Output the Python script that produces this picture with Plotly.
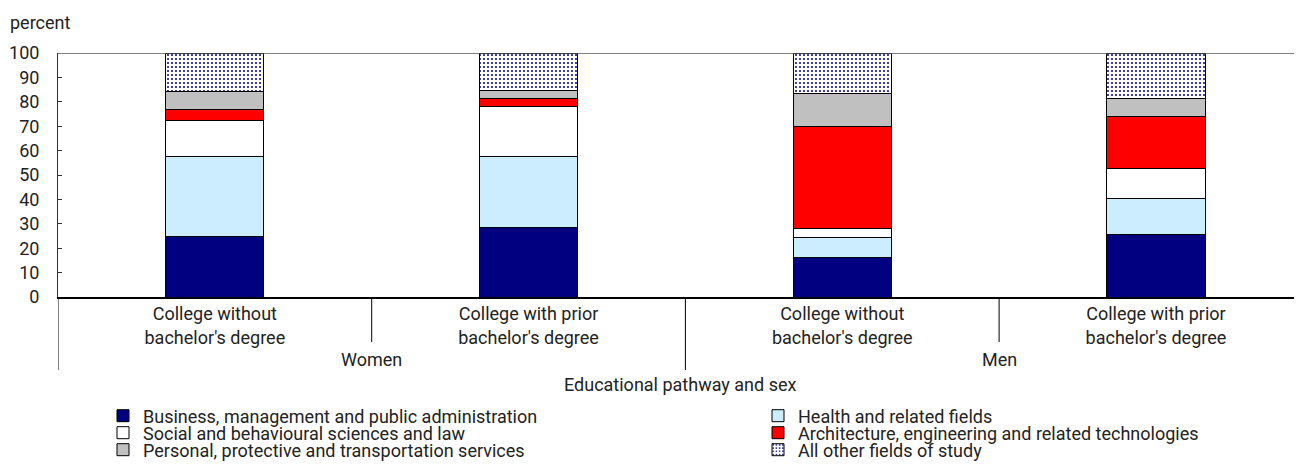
import plotly.graph_objects as go

# stacked shares by field of study, percent
pathways = ["College without<br>bachelor's degree", "College with prior<br>bachelor's degree",
            "College without<br>bachelor's degree", "College with prior<br>bachelor's degree"]
sexes = ["Women", "Men"]

business = [25.0, 28.6, 16.3, 25.6]
health = [32.4, 28.8, 8.2, 14.8]
social = [14.8, 20.5, 3.6, 12.2]
architecture = [4.5, 3.3, 41.9, 21.2]
personal = [7.7, 3.4, 13.2, 7.7]
other = [15.6, 15.4, 16.8, 18.5]

series_names = ["Business, management and public administration",
                "Health and related fields",
                "Social and behavioural sciences and law",
                "Architecture, engineering and related technologies",
                "Personal, protective and transportation services",
                "All other fields of study"]

FONT = "Roboto, Arial, sans-serif"
TXT = "#222222"
# the page body adds an 8px offset, so the figure is 8px smaller than the window
W, H = 1294, 467
L, T, B = 50, 45, 178
PW, PH = W - L, H - T - B


# helpers: window pixel position -> paper coordinate
def px(x):
    return (x - 8 - L) / PW


def py(y):
    return (H - B - (y - 8)) / PH


xs = list(range(len(pathways)))
series = [business, health, social, architecture, personal, other]
colors = ["#000080", "#CCECFF", "#FFFFFF", "#FF0000", "#C0C0C0", "#FFFFFF"]

fig = go.Figure()
for i, (name, vals, col) in enumerate(zip(series_names, series, colors)):
    marker = dict(color=col, line=dict(color="#000000", width=1))
    if i == 5:
        marker["pattern"] = dict(shape=".", fgcolor="#000080", bgcolor="#FFFFFF",
                                 size=4, solidity=0.2, fillmode="replace")
    fig.add_trace(go.Bar(x=xs, y=vals, name=name, marker=marker, width=0.313,
                         legend="legend" if i == 0 else "legend%d" % (i + 1)))

# legend layout: two columns, three rows
leg_pos = [(103, 416), (758, 416), (103, 433), (758, 433), (103, 450), (758, 450)]
legends = {}
for i, (lx, ly) in enumerate(leg_pos):
    key = "legend" if i == 0 else "legend%d" % (i + 1)
    legends[key] = dict(x=px(lx), y=py(ly), xanchor="left", yanchor="middle",
                        font=dict(family=FONT, size=18, color=TXT),
                        bgcolor="rgba(0,0,0,0)", borderwidth=0, visible=True)

shapes = [dict(type="line", xref="x", yref="y", x0=-0.5, x1=3.5, y0=100, y1=100,
               line=dict(color="#555555", width=1.5))]
for xv, yb in [(-0.5, 370), (0.5, 342), (1.5, 370), (2.5, 342)]:
    shapes.append(dict(type="line", xref="x", yref="paper", x0=xv, x1=xv,
                       y0=0, y1=py(yb), line=dict(color="#000000", width=1)))

annotations = [
    dict(text="percent", x=px(8), y=py(23), xref="paper", yref="paper",
         xanchor="left", yanchor="middle", showarrow=False),
    dict(text=sexes[0], x=0.5, y=py(359), xref="x", yref="paper",
         xanchor="center", yanchor="middle", showarrow=False),
    dict(text=sexes[1], x=2.5, y=py(359), xref="x", yref="paper",
         xanchor="center", yanchor="middle", showarrow=False),
    dict(text="Educational pathway and sex", x=px(680), y=py(384), xref="paper", yref="paper",
         xanchor="center", yanchor="middle", showarrow=False),
]

fig.update_layout(
    width=W, height=H,
    margin=dict(l=L, r=0, t=T, b=B, pad=0, autoexpand=False),
    paper_bgcolor="white", plot_bgcolor="white",
    barmode="stack", showlegend=True,
    font=dict(family=FONT, size=18, color=TXT),
    shapes=shapes, annotations=annotations,
    **legends,
)
fig.update_xaxes(range=[-0.5, PW / 313.7 - 0.5], tickvals=xs, ticktext=pathways,
                 showline=True, linecolor="#000000", linewidth=1.5, ticks="",
                 showgrid=False, zeroline=False, tickfont=dict(size=18))
fig.update_yaxes(range=[0, 100], tickvals=list(range(0, 101, 10)),
                 showline=True, linecolor="#333333", linewidth=1, ticks="inside",
                 ticklen=4, tickcolor="#333333", showgrid=False, zeroline=False,
                 ticklabelstandoff=14, tickfont=dict(size=18))

fig.write_html("out.html")
